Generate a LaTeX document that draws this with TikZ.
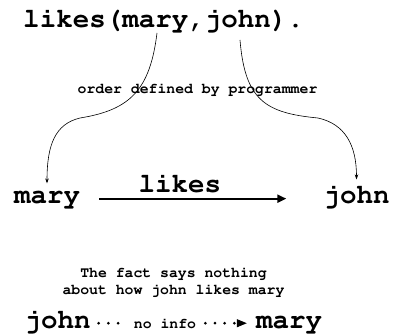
\documentclass[tikz,border=0pt]{standalone}
\usepackage{fontspec}
\usetikzlibrary{positioning}
\usetikzlibrary{arrows.meta}

\newcommand\courier[1]{\fontencoding{T1}\fontfamily{pcr}\fontseries{b}%
  \fontsize{#1}{#1}\selectfont}

\begin{document}
\begin{tikzpicture}[
  x=1pt, y=-1pt,
  word/.style={font=\courier{27.5}, inner sep=0pt, anchor=base},
  remark/.style={font=\courier{14.8}, inner sep=0pt, anchor=base},
  order/.style={-{Stealth[length=5pt,width=3.5pt]}, line width=0.6pt},
  relation/.style={-{Triangle[length=9pt,width=8pt]}, line width=2pt},
  guess/.style={line width=3pt, line cap=round,
    dash pattern=on 0pt off 9.7pt},
]
  \useasboundingbox (0,0) rectangle (393,334);

  \node[word] (fact) at (163.5,28) {likes(mary,john).};
  \coordinate (arg1) at (157,33);
  \coordinate (arg2) at (240,40);
  \node[remark] (defined) at (197.5,94) {order defined by programmer};

  \node[word] (mary) at (47,203) {mary};
  \node[word] (john) at (356.5,203) {john};

  \draw[order, shorten >=7pt] (arg1) .. controls (150,90) and (130,110) .. (80,118)
    .. controls (55,124) and (47,145) .. (mary.north);
  \draw[order, shorten >=5pt] (arg2) .. controls (245,100) and (265,113) .. (318,118)
    .. controls (345,124) and (356.5,145) .. (john.north);

  \draw[relation, shorten <=19pt, shorten >=37pt] (mary.east) --
    node[pos=.41, above=4.6pt, word, anchor=south] (likes) {likes}
    (mary.east -| john.west);

  \node[remark] (note1) at (173.5,277) {The fact says nothing};
  \node[remark] (note2) at (173.5,294) {about how john likes mary};

  \node[word] (john2) at (57.5,328) {john};
  \node[word] (mary2) at (289,328) {mary};
  \node[remark] (noinfo) at (165,328) {no info};

  \draw[guess, shorten <=8pt, shorten >=9pt] (john2.east |- noinfo.west) -- (noinfo.west);
  \draw[guess, shorten <=9pt] (noinfo.east) -- ([xshift=-19pt]mary2.west |- noinfo.east);
  \draw[-{Triangle[length=10pt,width=8pt]}, line width=1pt]
    ([xshift=-19pt]mary2.west |- noinfo.east) -- ([xshift=-9pt]mary2.west |- noinfo.east);
\end{tikzpicture}
\end{document}
